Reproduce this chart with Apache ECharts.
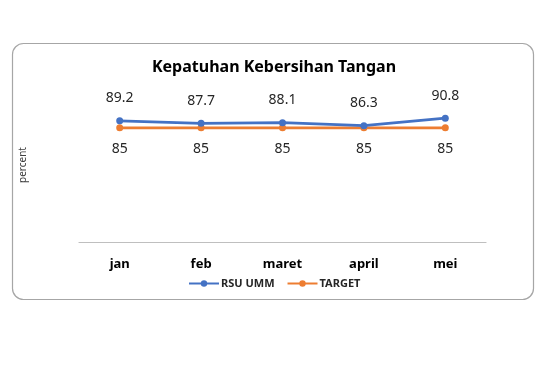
<!DOCTYPE html>
<html>
<head>
<meta charset="utf-8">
<script src="https://cdn.jsdelivr.net/npm/echarts@6/dist/echarts.min.js"></script>
<style>html,body{margin:0;padding:0;background:#fff}#c{width:560px;height:370px}</style>
</head>
<body>
<div id="c"></div>
<script>
var categories = ['jan', 'feb', 'maret', 'april', 'mei'];
var rsuUmm = [89.2, 87.7, 88.1, 86.3, 90.8];
var target = [85, 85, 85, 85, 85];
var titleText = 'Kepatuhan Kebersihan Tangan';
var yName = 'percent';

var chart = echarts.init(document.getElementById('c'), null, {renderer: 'canvas'});
var font = '"Noto Sans", "Open Sans", sans-serif';
chart.setOption({
  animation: false,
  graphic: [{
    type: 'rect',
    shape: {x: 12.5, y: 43.5, width: 521, height: 256, r: 11},
    style: {fill: 'none', stroke: '#a6a6a6', lineWidth: 1.2},
    z: -1
  }, {
    type: 'text',
    x: 23, y: 165,
    rotation: Math.PI / 2,
    style: {text: yName, font: '10px ' + font, fill: '#404040', align: 'center', verticalAlign: 'middle'}
  }],
  title: {
    text: titleText,
    left: 269, top: 54, textAlign: 'center',
    textStyle: {fontFamily: font, fontWeight: 'bold', fontSize: 16, color: '#000'}
  },
  legend: {
    data: ['RSU UMM', 'TARGET'],
    top: 273,
    left: 183,
    itemWidth: 30, itemHeight: 8, itemGap: 12,
    textStyle: {fontFamily: font, fontWeight: 'bold', fontSize: 11, color: '#262626', padding: [0, 0, 0, -3]}
  },
  grid: {left: 79, right: 74, top: 103, bottom: 128},
  xAxis: {
    type: 'category',
    data: categories,
    boundaryGap: true,
    axisLine: {lineStyle: {color: '#bfbfbf', width: 1.2}},
    axisTick: {show: false},
    axisLabel: {fontFamily: font, fontWeight: 'bold', fontSize: 13, color: '#000', margin: 16}
  },
  yAxis: {
    type: 'value', min: 16, max: 100,
    show: false,
    splitLine: {show: false}
  },
  series: [{
    name: 'RSU UMM', type: 'line', data: rsuUmm,
    symbol: 'circle', symbolSize: 7,
    lineStyle: {color: '#4472c4', width: 2.8},
    itemStyle: {color: '#4472c4'},
    label: {show: true, position: 'top', distance: 12, fontFamily: font, fontSize: 14, color: '#262626'},
    z: 3
  }, {
    name: 'TARGET', type: 'line', data: target,
    symbol: 'circle', symbolSize: 7,
    lineStyle: {color: '#ed7d31', width: 2.8},
    itemStyle: {color: '#ed7d31'},
    label: {show: true, position: 'bottom', distance: 11, fontFamily: font, fontSize: 14, color: '#262626'},
    z: 2
  }]
});
</script>
</body>
</html>
